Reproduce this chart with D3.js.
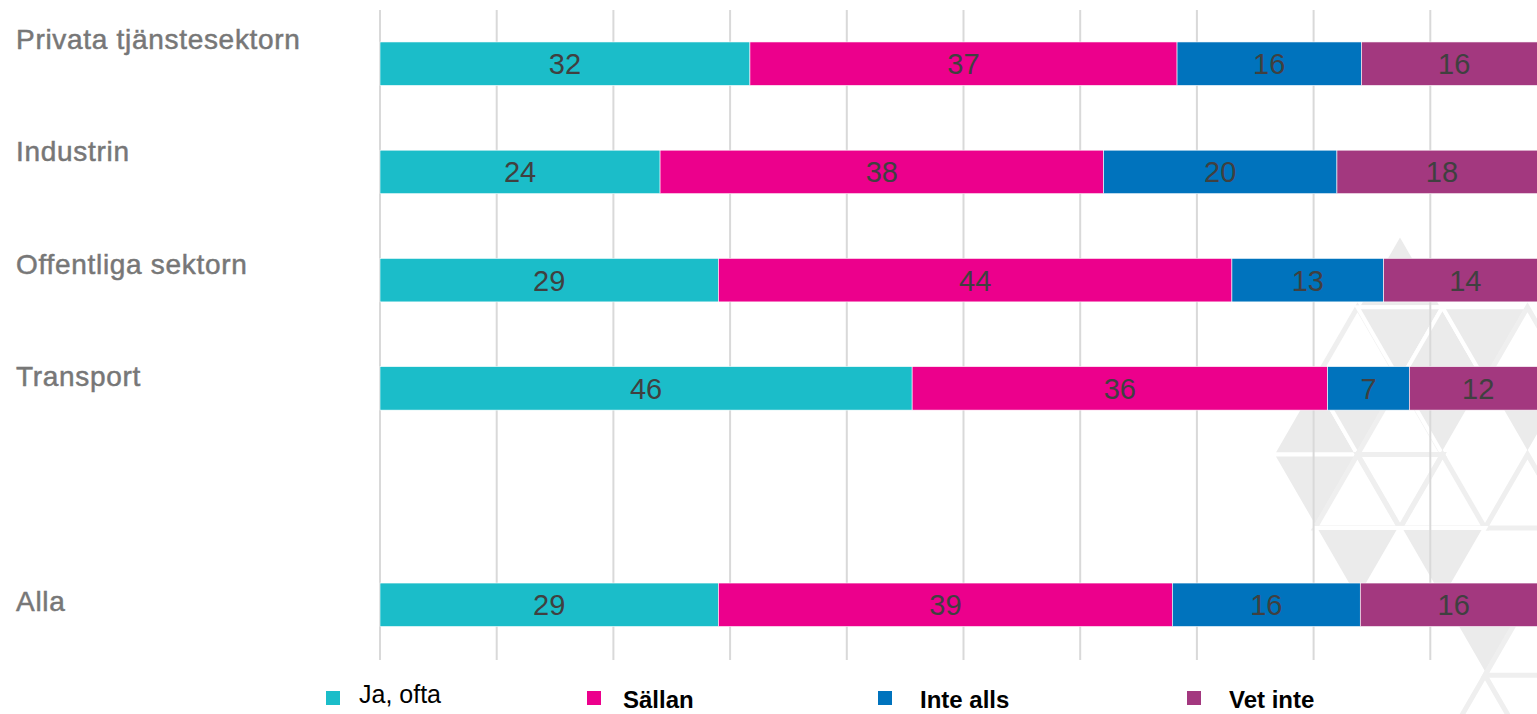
<!DOCTYPE html>
<html>
<head>
<meta charset="utf-8">
<script src="https://cdn.jsdelivr.net/npm/d3@7"></script>
<style>
  html, body { margin: 0; padding: 0; background: #fff; overflow: hidden; }
  svg { display: block; }
</style>
</head>
<body>
<svg id="chart"></svg>
<script>
// data
const categories = ["Privata tjänstesektorn", "Industrin", "Offentliga sektorn", "Transport", "Alla"];
const seriesNames = ["Ja, ofta", "Sällan", "Inte alls", "Vet inte"];
const jaOfta   = [31.7, 24.0, 29.0, 45.6, 29.0];
const sallan   = [36.6, 38.0, 44.0, 35.6, 38.9];
const inteAlls = [15.8, 20.0, 13.0, 7.0, 16.1];
const vetInte  = [15.9, 18.0, 14.0, 11.8, 16.0];
const xTicks = [0, 10, 20, 30, 40, 50, 60, 70, 80, 90, 100];

const colors = ["#1bbdc9", "#ec008c", "#0073bd", "#a3387f"];
const legendX = [326, 587, 878, 1187];

const W = 1537, H = 714;
const svg = d3.select("#chart").attr("width", W).attr("height", H);

// rows, with an empty slot before "Alla"
const rows = categories.slice(0, 4).concat(["__gap__"], categories.slice(4));

let x = d3.scaleLinear().domain([0, 100]).range([380, 1547]);
let y = d3.scaleBand().domain(rows).range([9.5, 659]).paddingInner(0.598).paddingOuter(0.3);
let yLabel = d3.scalePoint().domain(rows).range([49, 611]);

// background watermark (triangle lattice)
function watermark() {
    let s = 85, h = 73.6, top = 233.6;
    let cells = [
        [0, 1400, "up", "fill"],
        [1, 1357.5, "up", "line"], [1, 1400, "down", "fill"], [1, 1442.5, "up", "fill"],
        [1, 1485, "down", "fill"], [1, 1527.5, "up", "line"],
        [2, 1315, "up", "fill"], [2, 1357.5, "down", "fill"], [2, 1400, "up", "line"],
        [2, 1442.5, "down", "fill"], [2, 1527.5, "down", "fill"],
        [3, 1315, "down", "fill"], [3, 1357.5, "up", "line"], [3, 1400, "down", "line"],
        [3, 1442.5, "up", "line"], [3, 1527.5, "up", "line"],
        [4, 1357.5, "down", "fill"], [4, 1442.5, "down", "fill"],
        [5, 1485, "down", "fill"], [5, 1527.5, "up", "line"],
        [6, 1485, "up", "line"]
    ];
    let g = svg.append("g").attr("class", "watermark");
    cells.forEach(function (c) {
        let y0 = top + c[0] * h, y1 = y0 + h, cx = c[1];
        let pts = c[2] === "up"
            ? [[cx, y0], [cx - s / 2, y1], [cx + s / 2, y1]]
            : [[cx - s / 2, y0], [cx + s / 2, y0], [cx, y1]];
        let p = g.append("polygon").attr("points", pts.map(d => d.join(",")).join(" "));
        if (c[3] === "fill") {
            p.attr("fill", "#ebebeb").attr("stroke", "#fff").attr("stroke-width", 4);
        } else {
            p.attr("fill", "none").attr("stroke", "#efefef").attr("stroke-width", 5);
        }
    });
}
watermark();

// gridlines
svg.append("g").selectAll("line").data(xTicks).enter().append("line")
    .attr("x1", d => x(d)).attr("x2", d => x(d))
    .attr("y1", 10).attr("y2", 660)
    .attr("stroke", "#d9d9d9").attr("stroke-width", 2);

// stacked data
let table = categories.map(function (c, i) {
    return { cat: c, "Ja, ofta": jaOfta[i], "Sällan": sallan[i], "Inte alls": inteAlls[i], "Vet inte": vetInte[i] };
});
let stack = d3.stack().keys(seriesNames)(table);

let layer = svg.append("g").selectAll("g").data(stack).enter().append("g")
    .attr("fill", (d, i) => colors[i]);

layer.selectAll("rect").data(d => d).enter().append("rect")
    .attr("x", d => x(d[0]))
    .attr("y", d => y(d.data.cat))
    .attr("width", d => x(d[1]) - x(d[0]))
    .attr("height", y.bandwidth())
    .attr("stroke", "#fff").attr("stroke-width", 0.6);

let fmt = d3.format(".0f");
layer.selectAll("text").data(d => d).enter().append("text")
    .attr("x", d => (x(d[0]) + x(d[1])) / 2)
    .attr("y", d => y(d.data.cat) + y.bandwidth() / 2)
    .attr("dy", "0.36em")
    .attr("text-anchor", "middle")
    .attr("fill", "#404040")
    .style("font-family", "'Liberation Sans', Arial, sans-serif")
    .style("font-size", "29px")
    .text(d => fmt(d[1] - d[0]));

// category labels
svg.append("g").selectAll("text").data(categories).enter().append("text")
    .attr("x", 16)
    .attr("y", d => yLabel(d))
    .attr("fill", "#777")
    .attr("stroke", "#777").attr("stroke-width", 0.5)
    .style("font-family", "'Liberation Sans', Arial, sans-serif")
    .style("font-size", "28px")
    .style("letter-spacing", "0.7px")
    .text(d => d);

// legend
let legend = svg.append("g").selectAll("g").data(seriesNames).enter().append("g")
    .attr("transform", (d, i) => "translate(" + legendX[i] + ",0)");

legend.append("rect")
    .attr("x", 0).attr("y", 691)
    .attr("width", 14).attr("height", 14)
    .attr("fill", (d, i) => colors[i]);

legend.append("text")
    .attr("x", (d, i) => i === 0 ? 33 : (i === 1 ? 36 : 42))
    .attr("y", (d, i) => i === 0 ? 703 : 708)
    .attr("fill", "#000")
    .style("font-family", "'Liberation Sans', Arial, sans-serif")
    .style("font-size", (d, i) => i === 0 ? "25px" : "24px")
    .style("font-weight", (d, i) => i === 0 ? "normal" : "bold")
    .text(d => d);
</script>
</body>
</html>
